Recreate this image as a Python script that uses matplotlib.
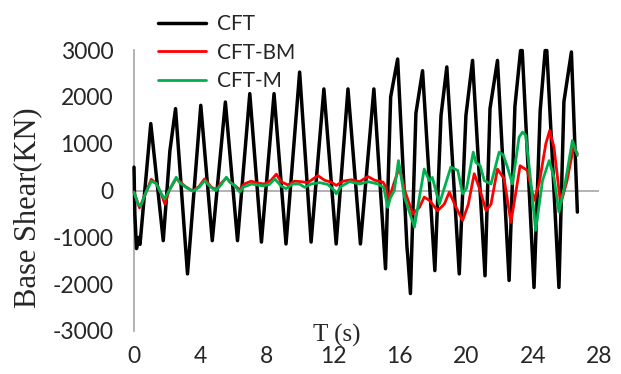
import matplotlib

matplotlib.use("Agg")
import matplotlib.pyplot as plt

# Base shear time histories (s, kN)
cft_t = [0.0, 0.05, 0.15, 0.27, 0.36, 1.01, 1.76, 2.16, 2.5, 3.22, 4.02, 4.71,
         5.5, 6.23, 6.97, 7.67, 8.43, 9.15, 9.97, 10.66, 11.43, 12.17, 12.88,
         13.63, 14.44, 15.14, 15.45, 15.87, 16.43, 16.49, 16.64, 16.97, 17.37,
         18.11, 18.48, 18.83, 19.58, 19.98, 20.38, 21.13, 21.43, 21.88, 22.58,
         22.93, 23.27, 23.37, 24.08, 24.45, 24.75, 24.85, 25.58, 25.88, 26.33,
         26.69]
cft_v = [500, -500, -1240, -1000, -1150, 1430, -1070, 850, 1750, -1780, 1820,
         -1070, 1890, -1070, 2070, -1100, 2070, -1140, 2530, -1100, 2170, -1140,
         2170, -1140, 2170, -1670, 2000, 2810, -1200, -1450, -2200, 1650, 2560,
         -1710, 1600, 2640, -1780, 1600, 2780, -1820, 1750, 2780, -1920, 1800,
         2990, 2990, -2070, 1700, 2990, 2990, -2070, 1900, 2960, -460]

bm_t = [0.0, 0.33, 0.6, 1.04, 1.34, 1.64, 1.86, 2.11, 2.54, 2.72, 3.12, 3.54,
        3.92, 4.25, 4.63, 4.93, 5.23, 5.56, 5.83, 6.37, 6.64, 7.04, 7.44, 7.85,
        8.25, 8.57, 8.85, 9.26, 9.66, 10.06, 10.46, 11.07, 11.47, 11.87, 12.17,
        12.58, 13.08, 13.58, 14.08, 14.49, 14.99, 15.16, 15.34, 15.64, 15.98,
        16.3, 16.78, 17.18, 17.47, 17.78, 18.28, 18.68, 18.98, 19.38, 19.78,
        20.12, 20.48, 20.84, 21.19, 21.49, 21.88, 22.28, 22.69, 22.98, 23.24,
        23.68, 24.08, 24.39, 24.79, 25.02, 25.28, 25.68, 26.06, 26.46, 26.69]
bm_v = [-30, -370, -150, 240, 150, -70, -290, 0, 260, 200, 80, -10, 90, 250,
        80, 20, 150, 270, 170, 20, 140, 200, 160, 140, 220, 350, 190, 120, 200,
        190, 170, 320, 220, 180, 110, 200, 230, 190, 300, 220, 180, 70, -200,
        150, 500, 0, -500, -360, -140, -210, -430, -290, -35, -350, -640, -300,
        360, 0, -430, -290, 460, 250, -680, -50, 530, 430, -210, 150, 1000,
        1280, 930, -290, 200, 930, 790]

m_t = [0.0, 0.24, 0.4, 0.7, 1.04, 1.34, 1.64, 1.84, 2.11, 2.54, 2.72, 3.12,
       3.54, 3.92, 4.25, 4.63, 4.93, 5.23, 5.56, 5.76, 6.04, 6.37, 6.57, 7.07,
       7.44, 7.78, 8.15, 8.47, 8.85, 9.15, 9.56, 9.96, 10.26, 10.66, 11.17,
       11.67, 12.07, 12.17, 12.47, 12.98, 13.58, 14.08, 14.69, 15.04, 15.27,
       15.44, 15.67, 15.92, 16.28, 16.88, 17.47, 17.78, 17.96, 18.38, 19.07,
       19.49, 19.78, 20.02, 20.42, 20.58, 20.84, 21.09, 21.49, 21.98, 22.23,
       22.48, 22.78, 23.18, 23.39, 23.58, 23.88, 24.18, 24.59, 24.99, 25.28,
       25.58, 25.95, 26.39, 26.69]
m_v = [-35, -290, -330, -50, 200, 150, -70, -180, 0, 285, 180, 70, -15, 70,
       210, 70, 0, 120, 285, 180, 110, -35, 70, 140, 120, 100, 130, 250, 100,
       40, 140, 140, 70, 140, 170, 130, 0, -70, 90, 190, 140, 190, 140, 60,
       -360, -150, 0, 640, -140, -780, 460, 210, 280, -290, 500, 430, -70, 50,
       820, 600, 530, 210, 140, 820, 760, 500, 140, 1140, 1250, 1180, 210, -850,
       210, 640, 280, -460, 150, 1070, 750]

x_ticks = [0, 4, 8, 12, 16, 20, 24, 28]
y_ticks = [-3000, -2000, -1000, 0, 1000, 2000, 3000]

AXIS_GRAY = "#a6a6a6"
TEXT = "#262626"

plt.rcParams["font.family"] = ["Lato", "DejaVu Sans"]
plt.rcParams["axes.unicode_minus"] = False

fig = plt.figure(figsize=(6.21, 3.74), dpi=100)
ax = fig.add_axes([0.2158, 0.115, 0.749, 0.751])

line_kw = dict(solid_joinstyle="round", solid_capstyle="round", clip_on=False)
ax.plot(cft_t, cft_v, color="black", lw=2.5, label="CFT", zorder=3, **line_kw)
ax.plot(bm_t, bm_v, color="#ff0000", lw=2.0, label="CFT-BM", zorder=4, **line_kw)
ax.plot(m_t, m_v, color="#00b050", lw=2.0, label="CFT-M", zorder=5, **line_kw)

ax.axhline(0, color=AXIS_GRAY, lw=1.2, zorder=1)

ax.set_xlim(0, 28)
ax.set_ylim(-3000, 3000)
ax.set_xticks(x_ticks)
ax.set_yticks(y_ticks)
for side in ("top", "right", "bottom"):
    ax.spines[side].set_visible(False)
ax.spines["left"].set_color(AXIS_GRAY)
ax.spines["left"].set_linewidth(1.2)
ax.tick_params(axis="both", length=0, labelsize=16.5, labelcolor=TEXT)
ax.tick_params(axis="x", pad=11)
ax.tick_params(axis="y", pad=15)

fig.text(0.045, 1 - 208 / 374, "Base Shear(KN)", family="Liberation Serif",
         fontsize=22, color=TEXT, rotation=90, ha="center", va="center")
fig.text(0.542, 1 - 335 / 374, "T (s)", family="Liberation Serif", fontsize=18,
         color=TEXT, ha="center", va="center")

leg = fig.legend(loc="upper left", bbox_to_anchor=(0.254, 0.963),
                 frameon=False, fontsize=15, handlelength=2.3,
                 handletextpad=0.55, labelspacing=0.42, borderpad=0,
                 borderaxespad=0)
for text in leg.get_texts():
    text.set_color(TEXT)

fig.savefig("out.png", dpi=100)
